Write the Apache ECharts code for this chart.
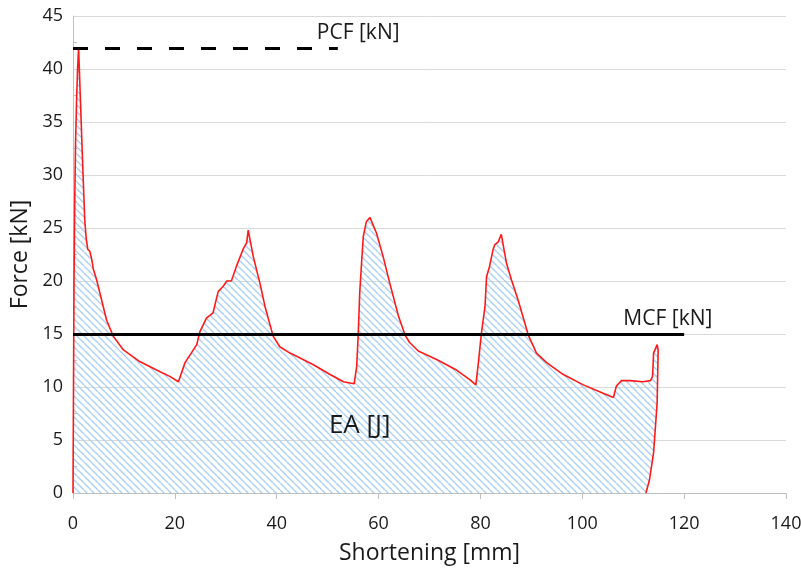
<!DOCTYPE html>
<html>
<head>
<meta charset="utf-8">
<script src="https://cdn.jsdelivr.net/npm/echarts@6/dist/echarts.min.js"></script>
<style>
  html, body { margin: 0; padding: 0; background: #fff; }
  #chart { width: 801px; height: 570px; }
</style>
</head>
<body>
<div id="chart"></div>
<script>
// ---- data ----
const shortening = [0, 0.1, 0.2, 0.35, 0.5, 0.7, 0.9, 1.1, 1.5, 1.9, 2.3, 2.6, 2.9, 3.3, 3.7, 4.0, 4.65, 6.6, 7.9, 9.9, 13.1, 16.4, 19.0, 20.7, 22.0, 24.3, 24.9, 26.2, 27.5, 28.5, 29.5, 30.2, 31.1, 32.1, 33.4, 34.1, 34.4, 35.4, 36.7, 37.7, 39.3, 40.6, 42.6, 43.9, 47.2, 50.4, 53.1, 55.2, 55.7, 56.0, 56.3, 56.7, 57.0, 57.6, 58.3, 59.6, 60.9, 62.2, 63.9, 65.2, 66.1, 67.8, 71.4, 75.3, 77.9, 79.1, 79.6, 80.2, 80.9, 81.2, 81.8, 82.5, 82.8, 83.5, 84.1, 85.1, 86.1, 87.4, 89.4, 91.0, 93.0, 96.2, 100.2, 104.1, 106.1, 106.7, 107.7, 109.3, 111.9, 113.4, 113.8, 114.0, 114.7, 114.9, 114.7, 114.0, 113.2, 112.5];
const force = [0, 10, 20, 28, 33, 37, 40, 42, 36.5, 31, 25.8, 24, 23, 22.8, 22, 21.1, 20.1, 16.3, 14.8, 13.5, 12.4, 11.6, 11.0, 10.5, 12.3, 14.0, 15.2, 16.5, 17.0, 19.0, 19.5, 20.0, 20.0, 21.4, 23.0, 23.6, 24.8, 22.3, 19.8, 17.6, 14.8, 13.8, 13.2, 12.9, 12.1, 11.2, 10.5, 10.3, 11.9, 14.9, 18.9, 22.0, 24.2, 25.6, 26.0, 24.5, 22.3, 19.8, 16.7, 14.9, 14.2, 13.4, 12.6, 11.6, 10.7, 10.2, 12.3, 15.1, 17.6, 20.4, 21.4, 23.0, 23.4, 23.7, 24.4, 21.7, 20.1, 18.2, 14.9, 13.2, 12.3, 11.2, 10.2, 9.4, 9.0, 10.1, 10.6, 10.6, 10.5, 10.6, 11.0, 13.2, 14.0, 13.5, 8.5, 3.8, 1.25, 0];

const pcfValue = 42;       // kN
const pcfEnd = 52;         // mm, end of dashed line
const mcfValue = 15;       // kN
const mcfEnd = 120;        // mm, end of solid line

const xTicks = { min: 0, max: 140, interval: 20 };
const yTicks = { min: 0, max: 45, interval: 5 };

const labelPCF = 'PCF [kN]';
const labelMCF = 'MCF [kN]';
const labelEA = 'EA [J]';
const labelPCFAt = [56, 43.4];
const labelMCFAt = [116.8, 16.4];
const labelEAAt = [56.3, 6.4];

// ---- hatch pattern ----
function makeHatch() {
  const s = 7;
  const c = document.createElement('canvas');
  c.width = s; c.height = s;
  const ctx = c.getContext('2d');
  ctx.strokeStyle = '#a6cff3';
  ctx.lineWidth = 1.3;
  for (const k of [-s, 0, s]) {
    ctx.beginPath();
    ctx.moveTo(k, 0);
    ctx.lineTo(k + s, s);
    ctx.stroke();
  }
  return c;
}

const FONT = '"Open Sans", "Noto Sans", sans-serif';
const TXT = '#1a1a1a';

const data = shortening.map((x, i) => [x, force[i]]);

const chart = echarts.init(document.getElementById('chart'), null, { renderer: 'canvas' });
chart.setOption({
  animation: false,
  backgroundColor: '#fff',
  grid: { left: 73, right: 15, top: 16, bottom: 77, containLabel: false, outerBoundsMode: 'none' },
  xAxis: {
    type: 'value',
    min: xTicks.min, max: xTicks.max, interval: xTicks.interval,
    name: 'Shortening [mm]',
    nameLocation: 'middle',
    nameGap: 49,
    nameTextStyle: { fontFamily: FONT, fontSize: 23, color: TXT },
    axisLine: { show: true, lineStyle: { color: '#bfbfbf', width: 1 } },
    axisTick: { show: true, length: 6, lineStyle: { color: '#bfbfbf' } },
    axisLabel: { fontFamily: FONT, fontSize: 18, color: TXT, margin: 22 },
    splitLine: { show: false }
  },
  yAxis: {
    type: 'value',
    min: yTicks.min, max: yTicks.max, interval: yTicks.interval,
    name: 'Force [kN]',
    nameLocation: 'middle',
    nameGap: 32,
    nameTextStyle: { fontFamily: FONT, fontSize: 23, color: TXT },
    axisLine: { show: true, lineStyle: { color: '#bfbfbf', width: 1 } },
    axisTick: { show: false, inside: true },
    minorTick: { show: true, splitNumber: 2, length: 4, lineStyle: { color: '#bfbfbf' } },
    axisLabel: { fontFamily: FONT, fontSize: 18, color: TXT, margin: 10 },
    splitLine: { show: true, lineStyle: { color: '#d9d9d9', width: 1 } }
  },
  series: [{
    type: 'line',
    data: data,
    showSymbol: false,
    symbol: 'none',
    smooth: false,
    lineStyle: { color: '#ff1a1a', width: 1.6 },
    areaStyle: { color: { image: makeHatch(), repeat: 'repeat' }, opacity: 1 },
    z: 2,
    markLine: {
      silent: true,
      symbol: ['none', 'none'],
      label: { show: false },
      data: [
        [{ coord: [xTicks.min, pcfValue], lineStyle: { color: '#000', width: 3, type: [15, 17] } },
         { coord: [pcfEnd, pcfValue] }],
        [{ coord: [xTicks.min, mcfValue], lineStyle: { color: '#000', width: 3, type: 'solid' } },
         { coord: [mcfEnd, mcfValue] }]
      ]
    },
    markPoint: {
      silent: true,
      symbol: 'circle',
      symbolSize: 0,
      data: [
        { name: labelPCF, coord: labelPCFAt, label: { fontSize: 21 } },
        { name: labelMCF, coord: labelMCFAt, label: { fontSize: 21 } },
        { name: labelEA, coord: labelEAAt, label: { fontSize: 26 } }
      ],
      label: { show: true, position: 'inside', formatter: '{b}', fontFamily: FONT, color: TXT }
    }
  }]
});
</script>
</body>
</html>
